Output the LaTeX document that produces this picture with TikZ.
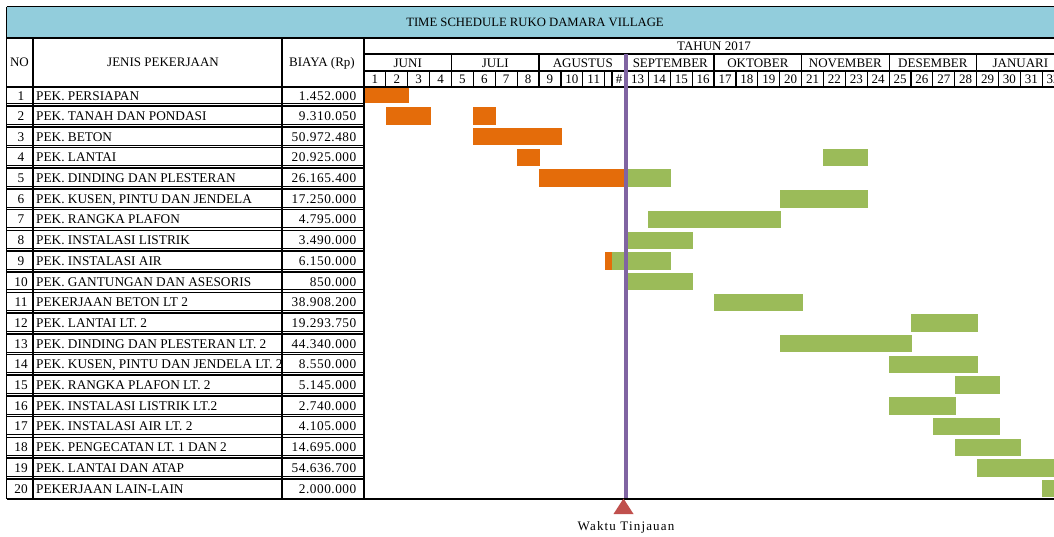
\documentclass[tikz,border=0pt]{standalone}
\usepackage{fontspec}
\setmainfont{Liberation Serif}
\definecolor{titleblue}{HTML}{92CDDC}
\definecolor{barorange}{HTML}{E46C0A}
\definecolor{bargreen}{HTML}{9BBB59}
\definecolor{markpurple}{HTML}{8064A2}
\definecolor{markred}{HTML}{C0504D}
\tikzset{
  txt/.style={inner sep=0pt, font=\fontsize{13}{14}\selectfont},
  rowtxt/.style={inner sep=0pt, font=\fontsize{13.3}{14}\selectfont},
  gridline/.style={line width=1.2pt},
  thickrule/.style={line width=1.6pt},
  thinrule/.style={line width=0.8pt},
  donebar/.style={fill=barorange},
  planbar/.style={fill=bargreen},
}
\newcommand{\ganttbar}[4]{%
  \pgfmathsetmacro{\bt}{#1==1 ? 88 : 107.3+(#1-2)*20.7}%
  \pgfmathsetmacro{\bb}{#1==1 ? 103.3 : \bt+17.4}%
  \pgfmathsetmacro{\xa}{364+(#2-1)*21.88}%
  \pgfmathsetmacro{\xb}{364+(#3-1)*21.88+1}%
  \path[#4] (\xa,\bt) rectangle (\xb,\bb);}
\newcommand{\jobrow}[3]{%
  \pgfmathsetmacro{\ry}{#1==1 ? 95.6+4.4 : 107.3+(#1-2)*20.7+8.7+4.4}%
  \node[rowtxt, anchor=base] (no#1) at (21,\ry) {#1};
  \node[rowtxt, anchor=base west] (job#1) at (36,\ry) {#2};
  \node[rowtxt, anchor=base east] (cost#1) at (356.5,\ry) {\addfontfeature{LetterSpace=4}#3};}
\begin{document}
\begin{tikzpicture}[x=1pt,y=-1pt]
\useasboundingbox (0,0) rectangle (1054,536);
\clip (0,0) rectangle (1054,536);
% title band
\fill[titleblue] (6.5,6.5) rectangle (1064,38);
\node[inner sep=0pt, font=\fontsize{12.7}{14}\selectfont, anchor=base] (title) at (535,26.3) {TIME SCHEDULE RUKO DAMARA VILLAGE};
% bars
\ganttbar{1}{1}{3}{donebar}
\ganttbar{2}{2}{4}{donebar}
\ganttbar{2}{6}{7}{donebar}
\ganttbar{3}{6}{10}{donebar}
\ganttbar{4}{8}{9}{donebar}
\ganttbar{4}{22}{24}{planbar}
\ganttbar{5}{9}{13}{donebar}
\ganttbar{5}{13}{15}{planbar}
\ganttbar{6}{20}{24}{planbar}
\ganttbar{7}{14}{20}{planbar}
\ganttbar{8}{13}{16}{planbar}
\ganttbar{9}{12}{12.29}{donebar}
\ganttbar{9}{12.33}{15}{planbar}
\ganttbar{10}{13}{16}{planbar}
\ganttbar{11}{17}{21}{planbar}
\ganttbar{12}{26}{29}{planbar}
\ganttbar{13}{20}{26}{planbar}
\ganttbar{14}{25}{29}{planbar}
\ganttbar{15}{28}{30}{planbar}
\ganttbar{16}{25}{28}{planbar}
\ganttbar{17}{27}{30}{planbar}
\ganttbar{18}{28}{31}{planbar}
\ganttbar{19}{29}{33}{planbar}
\ganttbar{20}{32}{33}{planbar}
% rows (text first so the column line at 282 covers the overflow)
\jobrow{1}{PEK. PERSIAPAN}{1.452.000}
\jobrow{2}{PEK. TANAH DAN PONDASI}{9.310.050}
\jobrow{3}{PEK. BETON}{50.972.480}
\jobrow{4}{PEK. LANTAI}{20.925.000}
\jobrow{5}{PEK. DINDING DAN PLESTERAN}{26.165.400}
\jobrow{6}{PEK. KUSEN, PINTU DAN JENDELA}{17.250.000}
\jobrow{7}{PEK. RANGKA PLAFON}{4.795.000}
\jobrow{8}{PEK. INSTALASI LISTRIK}{3.490.000}
\jobrow{9}{PEK. INSTALASI AIR}{6.150.000}
\jobrow{10}{PEK. GANTUNGAN DAN ASESORIS}{850.000}
\jobrow{11}{PEKERJAAN BETON LT 2}{38.908.200}
\jobrow{12}{PEK. LANTAI LT. 2}{19.293.750}
\jobrow{13}{PEK. DINDING DAN PLESTERAN LT. 2}{44.340.000}
\jobrow{14}{PEK. KUSEN, PINTU DAN JENDELA LT. 2}{8.550.000}
\jobrow{15}{PEK. RANGKA PLAFON LT. 2}{5.145.000}
\jobrow{16}{PEK. INSTALASI LISTRIK LT.2}{2.740.000}
\jobrow{17}{PEK. INSTALASI AIR LT. 2}{4.105.000}
\jobrow{18}{PEK. PENGECATAN LT. 1 DAN 2}{14.695.000}
\jobrow{19}{PEK. LANTAI DAN ATAP}{54.636.700}
\jobrow{20}{PEKERJAAN LAIN-LAIN}{2.000.000}
% frame lines
\draw[thickrule] (6.5,6.5) -- (1064,6.5);
\draw[thickrule] (6.5,38) -- (1064,38);
\draw[gridline] (364,54) -- (1064,54);
\draw[gridline] (364,71) -- (1064,71);
\draw[thickrule] (6.5,87) -- (1064,87);
\draw[thickrule] (6.5,499) -- (1064,499);
\draw[thickrule] (6.5,6.5) -- (6.5,499);
\draw[gridline] (33,38) -- (33,499);
\draw[gridline] (282,38) -- (282,499);
\draw[gridline] (364,38) -- (364,499);
% row separators (double)
\foreach \k in {1,...,19} {
  \pgfmathsetmacro{\T}{107.3+(\k-1)*20.7}
  \draw[thinrule] (6.5,{\T-3.8}) -- (364,{\T-3.8});
  \draw[thickrule] (6.5,{\T-1.2}) -- (364,{\T-1.2});
}
% month dividers
\foreach \m in {0,...,8} {
  \pgfmathsetmacro{\mx}{364+\m*87.52}
  \draw[gridline] (\mx,54) -- (\mx,71);
}
% week dividers
\foreach \w in {1,...,33} {
  \pgfmathsetmacro{\wxx}{364+(\w-1)*21.88}
  \draw[gridline] (\wxx,71) -- (\wxx,87);
}
\draw[gridline] (612,71) -- (612,87);
% header texts
\node[txt, anchor=base] (hno) at (19.5,66.8) {NO};
\node[txt, anchor=base] (hjob) at (163,66.8) {JENIS PEKERJAAN};
\node[txt, anchor=base] (hcost) at (322,66.8) {BIAYA (Rp)};
\node[txt, anchor=base] (year) at (714,50.6) {TAHUN 2017};
\foreach \mn [count=\c] in {JUNI,JULI,AGUSTUS,SEPTEMBER,OKTOBER,NOVEMBER,DESEMBER,JANUARI} {
  \pgfmathsetmacro{\mcx}{364+(\c-1)*87.52+43.76}
  \node[txt, anchor=base] (month\c) at (\mcx,67.5) {\mn};
}
\foreach \w in {1,...,11,13,14,...,32} {
  \pgfmathsetmacro{\wcx}{364+(\w-1)*21.88+10.94}
  \node[txt, anchor=base] (week\w) at (\wcx,83.5) {\w};
}
\node[txt, anchor=base] (week12) at (619,83.5) {\#};
% review marker
\coordinate (reviewtop) at (626,54);
\coordinate (reviewbot) at (626,498);
\draw[markpurple, line width=4pt] (reviewtop) -- (reviewbot);
\coordinate (tip) at (623.5,498.5);
\fill[markred] (tip) -- (633.5,514) -- (613.5,514) -- cycle;
\node[txt, anchor=base] (review) at (626,530.3) {\addfontfeature{LetterSpace=9}Waktu Tinjauan};
\end{tikzpicture}
\end{document}
